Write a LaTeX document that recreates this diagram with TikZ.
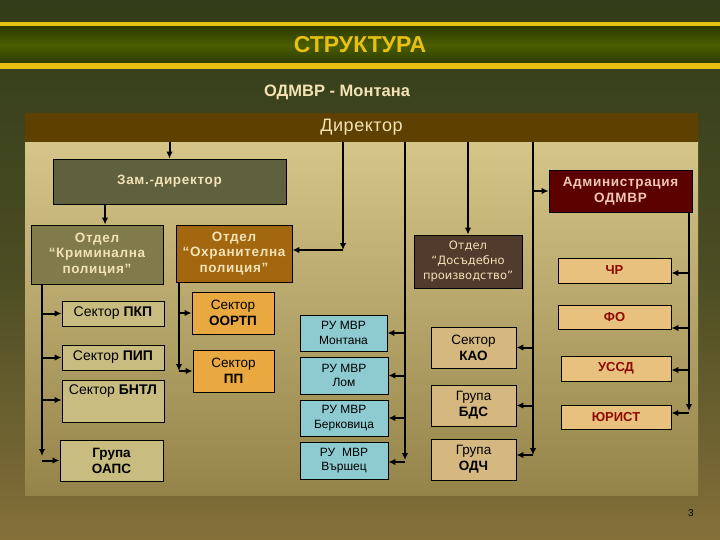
\documentclass[tikz,border=0pt]{standalone}
\usepackage{fontspec}
\setmainfont{Liberation Sans}
\newfontfamily\tahomalike{DejaVu Sans}
\usetikzlibrary{arrows.meta}

\definecolor{bgtop}{HTML}{323D19}
\definecolor{bgbot}{HTML}{85703A}
\definecolor{bandgreen}{HTML}{4A5E00}
\definecolor{banddark}{HTML}{2E3A00}
\definecolor{bandyellow}{HTML}{E8C012}
\definecolor{dirbrown}{HTML}{5E4000}
\definecolor{paneltop}{HTML}{D6C589}
\definecolor{panelbot}{HTML}{958449}
\definecolor{zamfill}{HTML}{5F603E}
\definecolor{admfill}{HTML}{5C0000}
\definecolor{krimfill}{HTML}{817A4B}
\definecolor{ohrfill}{HTML}{A3670F}
\definecolor{dosfill}{HTML}{503B2C}
\definecolor{secfill}{HTML}{C9BC80}
\definecolor{orfill}{HTML}{E9A940}
\definecolor{rufill}{HTML}{8DCBD1}
\definecolor{kaofill}{HTML}{D5B880}
\definecolor{admsub}{HTML}{E9C17F}
\definecolor{lighttxt}{HTML}{F2E2B6}
\definecolor{pinktxt}{HTML}{EFC8B4}
\definecolor{redtxt}{HTML}{8C0A00}

\begin{document}
\begin{tikzpicture}[x=1pt, y=-1pt, >={Latex[length=7pt,width=6.5pt]},
    conn/.style={line width=2pt},
    box/.style={draw=black, line width=0.8pt, inner sep=1pt, align=center,
        font=\fontsize{13}{15}\selectfont},
    spaced/.style={font=\fontsize{13.5}{15.5}\selectfont\bfseries\addfontfeature{LetterSpace=5}},
    rubox/.style={box, fill=rufill, font=\fontsize{12}{14.5}\selectfont},
    secbox/.style={box, fill=secfill, font=\fontsize{14}{16}\selectfont},
    subbox/.style={box, fill=admsub, text=redtxt, font=\fontsize{13}{15}\selectfont\bfseries}]

    % Background and frame
    \fill[top color=bgtop, bottom color=bgbot, middle color=bgtop!70!bgbot] (0,0) rectangle (720,540);
    \fill[bandyellow] (0,22) rectangle (720,69);
    \fill[top color=banddark, bottom color=banddark, middle color=bandgreen] (0,27) rectangle (720,63);
    \fill[top color=paneltop, bottom color=panelbot] (25,142) rectangle (698,495);

    % Titles
    \node[text=bandyellow, font=\fontsize{23}{26}\selectfont\bfseries] (title) at (360,45) {СТРУКТУРА};
    \node[text=lighttxt, font=\fontsize{16.5}{19}\selectfont\bfseries] (sub) at (337,92) {ОДМВР - Монтана};
    \node[fill=dirbrown, text=lighttxt, minimum width=673pt, minimum height=29pt, inner sep=0pt,
        font=\fontsize{18}{20}\selectfont\addfontfeature{LetterSpace=3}] (dir) at (361.5,127.5) {Директор};

    % Top level boxes
    \node[box, spaced, fill=zamfill, text=lighttxt,
        minimum width=233pt, minimum height=45pt] (zam) at (169.5,181.5) {Зам.-директор};
    \node[box, spaced, fill=admfill, text=pinktxt,
        minimum width=143pt, minimum height=42pt] (adm) at (620.5,191) {Администрация\\ОДМВР};

    % Departments
    \node[box, spaced, fill=krimfill, text=lighttxt,
        minimum width=132pt, minimum height=59pt] (krim) at (97,254.5) {Отдел\\“Криминална\\полиция”};
    \node[box, spaced, fill=ohrfill, text=lighttxt,
        minimum width=116pt, minimum height=57pt] (ohr) at (234,253.5) {Отдел\\“Охранителна\\полиция”};
    \node[box, fill=dosfill, text=lighttxt, font=\tahomalike\fontsize{11.5}{15}\selectfont,
        minimum width=108pt, minimum height=53pt] (dos) at (468,261.5) {Отдел\\“Досъдебно\\производство”};

    % Administration sub-units
    \node[subbox, minimum width=113pt, minimum height=25pt] (chr) at (614.5,270.5) {ЧР};
    \node[subbox, minimum width=113pt, minimum height=24pt] (fo) at (614.5,317) {ФО};
    \node[subbox, minimum width=110pt, minimum height=25pt] (ussd) at (616,368.5) {УССД};
    \node[subbox, minimum width=110pt, minimum height=24pt] (jur) at (616,417) {ЮРИСТ};

    % Criminal police sectors
    \node[secbox, minimum width=102pt, minimum height=25pt] (pkp) at (113,313.5) {Сектор \textbf{ПКП}};
    \node[secbox, minimum width=102pt, minimum height=25pt] (pip) at (113,357.5) {Сектор \textbf{ПИП}};
    \node[secbox, minimum width=102pt, text height=11pt, text depth=25pt, inner sep=3pt,
        anchor=north] (bntl) at (113,380) {Сектор \textbf{БНТЛ}};
    \node[secbox, font=\fontsize{13.5}{16}\selectfont\bfseries,
        minimum width=103pt, minimum height=41pt] (oaps) at (111.5,460.5) {Група\\ОАПС};

    % Security police sectors
    \node[box, fill=orfill, font=\fontsize{13.5}{16}\selectfont,
        minimum width=82pt, minimum height=42pt] (oortp) at (233,313) {Сектор\\\textbf{ООРТП}};
    \node[box, fill=orfill, font=\fontsize{13.5}{16}\selectfont,
        minimum width=81pt, minimum height=42pt] (pp) at (233.5,371) {Сектор\\\textbf{ПП}};

    % Regional units
    \node[rubox, minimum width=87pt, minimum height=36pt] (ru1) at (343.5,333) {РУ МВР\\Монтана};
    \node[rubox, minimum width=88pt, minimum height=37pt] (ru2) at (344,375.5) {РУ МВР\\Лом};
    \node[rubox, minimum width=88pt, minimum height=36pt] (ru3) at (344,418) {РУ МВР\\Берковица};
    \node[rubox, minimum width=88pt, minimum height=37pt] (ru4) at (344,460.5) {РУ \ МВР\\Вършец};

    % Pre-trial sectors
    \node[box, fill=kaofill, font=\fontsize{13.5}{16}\selectfont,
        minimum width=85pt, minimum height=41pt] (kao) at (473.5,347.5) {Сектор\\\textbf{КАО}};
    \node[box, fill=kaofill, font=\fontsize{13.5}{16}\selectfont,
        minimum width=85pt, minimum height=41pt] (bds) at (473.5,405.5) {Група\\\textbf{БДС}};
    \node[box, fill=kaofill, font=\fontsize{13.5}{16}\selectfont,
        minimum width=85pt, minimum height=41pt] (odch) at (473.5,459.5) {Група\\\textbf{ОДЧ}};

    % Page number
    \node[font=\fontsize{10}{12}\selectfont] (pg) at (691,513) {3};

    % Rails
    \coordinate (rohr) at (343,250);
    \coordinate (rru) at (405,460);
    \coordinate (radm) at (533,455);
    \coordinate (rsub) at (689,411);
    \coordinate (rkrim) at (42,456);
    \coordinate (rsec) at (179,371);

    % Edges from the director
    \draw[conn, ->] (dir.south -| zam.north) -- (zam.north);
    \draw[conn, ->] (dir.south -| rohr) -- (rohr);
    \draw[conn, ->] (rohr) -- (ohr.east |- rohr);
    \draw[conn, ->] (dir.south -| rru) -- (rru);
    \draw[conn, ->] (dir.south -| dos.north) -- (dos.north);
    \draw[conn, ->] (dir.south -| radm) -- (radm);
    \draw[conn, ->] (radm |- adm.west) -- (adm.west);

    % Edges to lower boxes
    \draw[conn, ->] ([xshift=8pt]zam.south -| krim.north) -- ([xshift=8pt]krim.north);
    \draw[conn, ->] (adm.south -| rsub) -- (rsub);
    \draw[conn, ->] (krim.south -| rkrim) -- (rkrim);
    \draw[conn, ->] (ohr.south -| rsec) -- (rsec);

    % Branches
    \foreach \b in {pkp, pip, oaps}
        \draw[conn, ->] (rkrim |- \b.west) -- (\b.west);
    \draw[conn, ->] (rkrim |- 0,400) -- (bntl.west |- 0,400);
    \foreach \b in {oortp, pp}
        \draw[conn, ->] (rsec |- \b.west) -- (\b.west);
    \foreach \b in {ru1, ru2, ru3}
        \draw[conn, ->] (rru |- \b.east) -- (\b.east);
    \draw[conn, ->] (rru |- 0,462) -- (ru4.east |- 0,462);
    \foreach \b in {kao, bds}
        \draw[conn, ->] (radm |- \b.east) -- (\b.east);
    \draw[conn, ->] (radm) -- (odch.east |- radm);
    \draw[conn, ->] (rsub |- 0,273) -- (chr.east |- 0,273);
    \draw[conn, ->] (rsub |- 0,328) -- (fo.east |- 0,328);
    \draw[conn, ->] (rsub |- 0,370) -- (ussd.east |- 0,370);
    \draw[conn, ->] (rsub |- 0,413) -- (jur.east |- 0,413);
\end{tikzpicture}
\end{document}
